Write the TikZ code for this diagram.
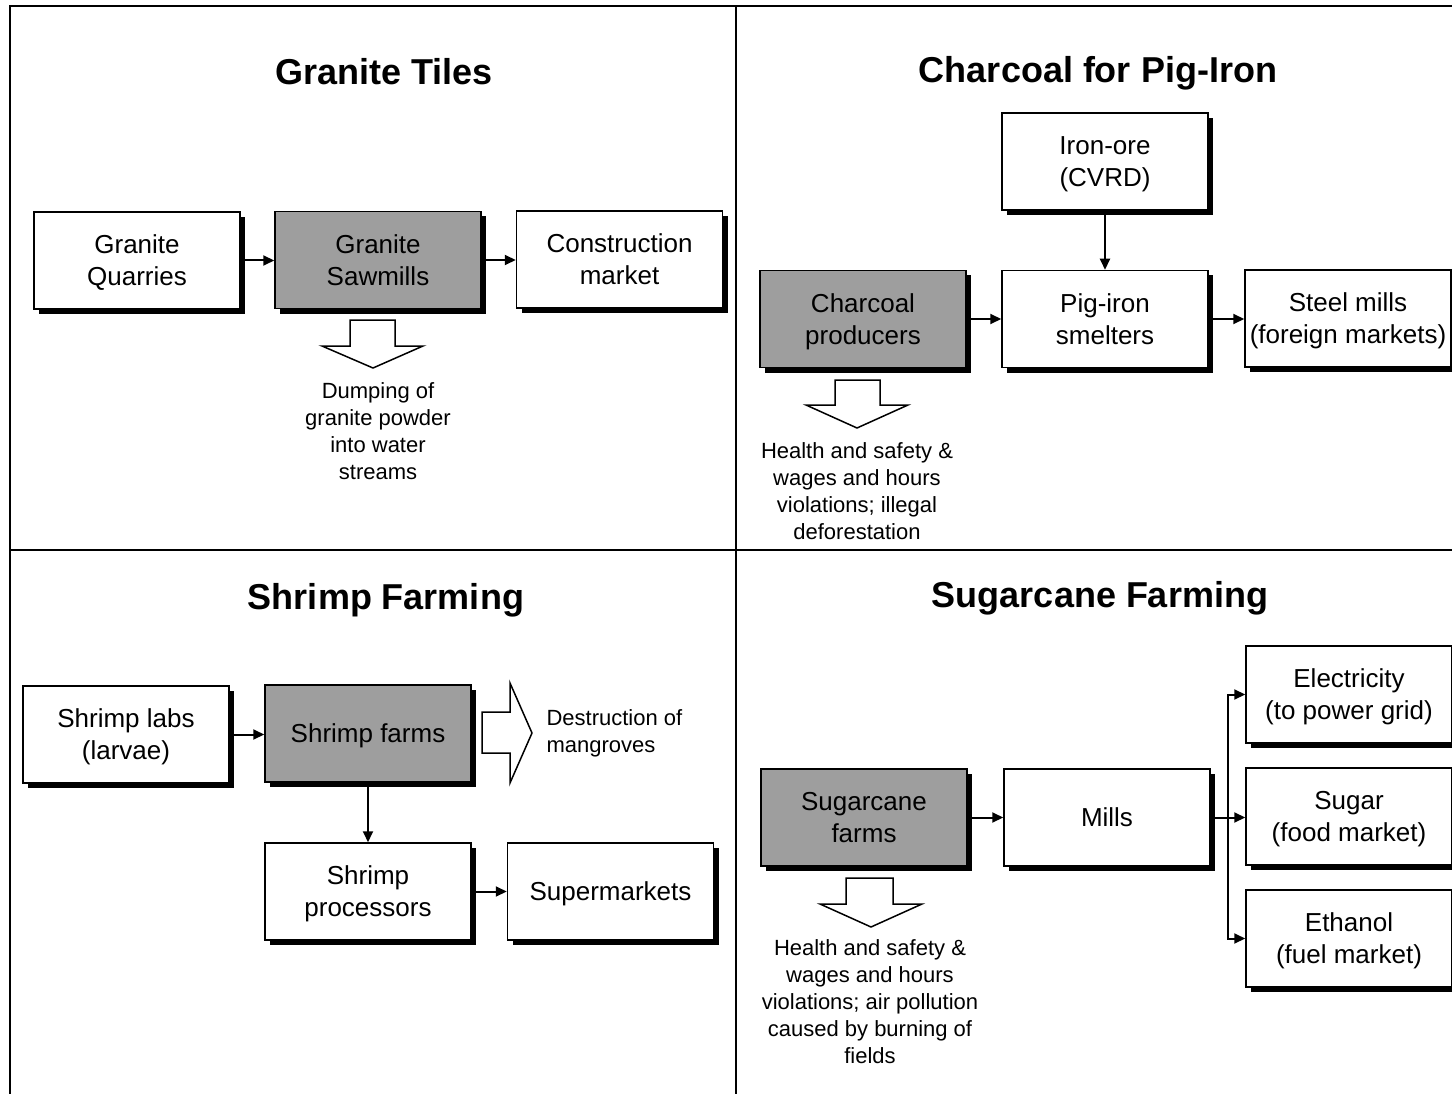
\documentclass[tikz,border=0pt]{standalone}
\usepackage{fontspec}
\setmainfont{Liberation Sans}
\usetikzlibrary{arrows.meta,shadows}
\newcommand{\boxtxt}[1]{\raisebox{-3pt}[\height][\depth]{\begin{tabular}{@{}c@{}}#1\end{tabular}}}
\begin{document}
\begin{tikzpicture}[x=1pt,y=-1pt,
  box/.style={draw,line width=1.5pt,fill=white,minimum width=206pt,minimum height=97pt,
    font=\fontsize{26}{32}\selectfont,inner sep=2pt,
    drop shadow={shadow xshift=5pt,shadow yshift=-5pt,fill=black,opacity=1}},
  grbox/.style={box,fill=black!38},
  conn/.style={line width=2pt,-{Triangle[length=11pt,width=10pt]}},
  frame/.style={line width=2pt},
  ttl/.style={font=\fontsize{36}{40}\selectfont\bfseries,anchor=base},
  note/.style={font=\fontsize{22}{27}\selectfont,align=center},
  hollow/.style={draw,line width=1.5pt,fill=white,line join=miter}]
\useasboundingbox (0,0) rectangle (1452,1094);
% frame
\draw[frame] (10,1094) -- (10,6) -- (1452,6);
\draw[frame] (736,6) -- (736,1094);
\draw[frame] (10,550) -- (1452,550);

% ---------- Granite Tiles ----------
\node[ttl] (t1) at (384,85) {Granite Tiles};
\node[box] (gq) at (137,260.5) {\boxtxt{Granite\\Quarries}};
\node[grbox] (gs) at (378,260) {\boxtxt{Granite\\Sawmills}};
\node[box] (cm) at (619.5,259.5) {\boxtxt{Construction\\market}};
\draw[conn] (gq.east) -- (gq.east -| gs.west);
\draw[conn] (gs.east) -- (gs.east -| cm.west);
\draw[hollow] (350,320) -- (395,320) -- (395,346) -- (423,346) -- (373,368) -- (322,346) -- (350,346) -- cycle;
\node[note] (n1) at (378,431) {Dumping of\\granite powder\\into water\\streams};

% ---------- Charcoal for Pig-Iron ----------
\node[ttl] (t2) at (1098,83) {Charcoal for Pig-Iron};
\node[box] (io) at (1105,161.5) {\boxtxt{Iron-ore\\(CVRD)}};
\node[grbox] (cp) at (863,319) {\boxtxt{Charcoal\\producers}};
\node[box] (pi) at (1105,319) {\boxtxt{Pig-iron\\smelters}};
\node[box] (sm) at (1348,318.5) {\boxtxt{Steel mills\\(foreign markets)}};
\draw[conn] (io.south) -- (pi.north);
\draw[conn] (cp.east) -- (cp.east -| pi.west);
\draw[conn] (pi.east) -- (pi.east -| sm.west);
\draw[hollow] (835,380) -- (880,380) -- (880,405) -- (908,405) -- (857,428) -- (806,405) -- (835,405) -- cycle;
\node[note] (n2) at (857,491) {Health and safety \&\\wages and hours\\violations; illegal\\deforestation};

% ---------- Shrimp Farming ----------
\node[ttl] (t3) at (386,609) {Shrimp Farming};
\node[box] (sl) at (126,734.5) {\boxtxt{Shrimp labs\\(larvae)}};
\node[grbox] (sf) at (368,733.5) {\boxtxt{Shrimp farms}};
\node[box] (sp) at (368,891.5) {\boxtxt{Shrimp\\processors}};
\node[box] (su) at (610.5,891.5) {\boxtxt{Supermarkets}};
\draw[conn] (sl.east) -- (sl.east -| sf.west);
\draw[conn] (sf.south) -- (sp.north);
\draw[conn] (sp.east) -- (sp.east -| su.west);
\draw[hollow] (482,712) -- (510,712) -- (510,683) -- (532,733) -- (510,783) -- (510,753) -- (482,753) -- cycle;
\node[note,align=left,anchor=west] (n3) at (543,733.5) {Destruction of\\mangroves};

% ---------- Sugarcane Farming ----------
\node[ttl] (t4) at (1100,607) {Sugarcane Farming};
\node[grbox] (sc) at (864,817.5) {\boxtxt{Sugarcane\\farms}};
\node[box] (mi) at (1107,817.5) {\boxtxt{Mills}};
\node[box] (el) at (1349,694.5) {\boxtxt{Electricity\\(to power grid)}};
\node[box] (sg) at (1349,816.5) {\boxtxt{Sugar\\(food market)}};
\node[box] (et) at (1349,938.5) {\boxtxt{Ethanol\\(fuel market)}};
\draw[conn] (sc.east) -- (sc.east -| mi.west);
\coordinate (br) at (1228,817.5);
\draw[line width=2pt] (mi.east) -- (br);
\draw[conn] (br) |- (el.west);
\draw[conn] (br) -- (br -| sg.west);
\draw[conn] (br) |- (et.west);
\draw[hollow] (846,878) -- (893,878) -- (893,904) -- (922,904) -- (871,927) -- (820,904) -- (846,904) -- cycle;
\node[note] (n4) at (870,1002) {Health and safety \&\\wages and hours\\violations; air pollution\\caused by burning of\\fields};
\end{tikzpicture}
\end{document}
